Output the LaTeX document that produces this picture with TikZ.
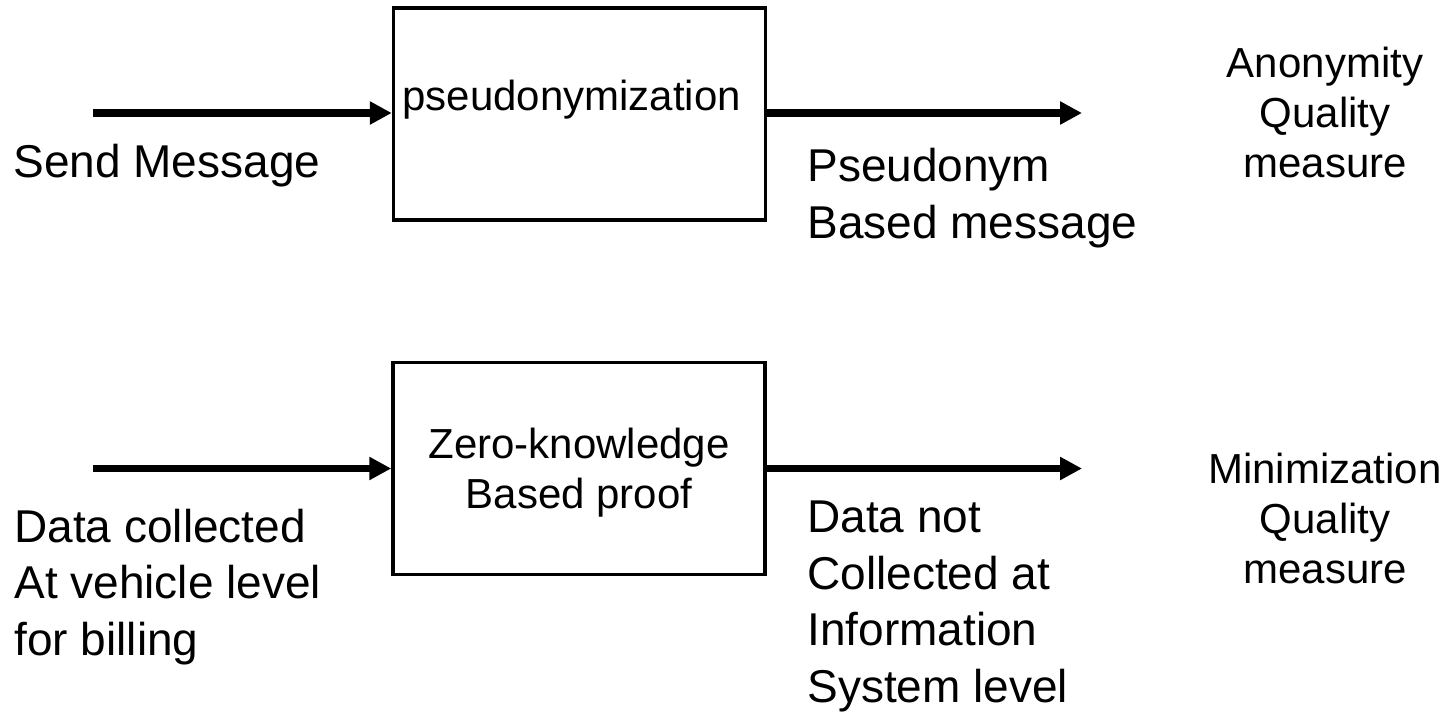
\documentclass[tikz,border=0pt]{standalone}
\usepackage{fontspec}
\setmainfont{Liberation Sans}
\usetikzlibrary{arrows.meta}
\begin{document}
\begin{tikzpicture}[x=0.5pt,y=-0.5pt,
  procbox/.style={draw=black, line width=1.75pt, minimum width=186pt, minimum height=106pt, inner sep=0pt},
  flow/.style={line width=3.75pt, -{Triangle[length=11pt,width=11pt]}},
  bigtext/.style={inner sep=0pt, align=left, anchor=base west, font=\fontsize{23}{28.25}\selectfont},
  smalltext/.style={inner sep=0pt, align=center, anchor=base, font=\fontsize{21}{25}\selectfont},
  boxtext/.style={inner sep=0pt, font=\fontsize{21}{25}\selectfont}]
\useasboundingbox (0,0) rectangle (1451,718);

% upper chain: pseudonymization
% (multi-line labels are placed by the baseline of their last line)
\node[procbox] (pbox) at (579.5,114) {};
\node[boxtext, anchor=base west] (plabel) at (402,110) {pseudonymization};
\coordinate (pin) at (93,113);
\coordinate (pout) at (1082,113);
\draw[flow] (pin) -- (pin -| pbox.west);
\draw[flow] (pbox.east |- pout) -- (pout);
\node[bigtext] (send) at (13,177) {Send Message};
\node[bigtext] (pseud) at (807,238) {Pseudonym\\Based message};
\node[smalltext] (anon) at (1325,177) {Anonymity\\Quality\\measure};

% lower chain: zero-knowledge proof
\node[procbox] (zbox) at (579,468.5) {};
\node[boxtext, align=center, anchor=base] (zlabel) at (579,508) {Zero-knowledge\\Based proof};
\coordinate (zin) at (93,468.5);
\coordinate (zout) at (1082,468.5);
\draw[flow] (zin) -- (zin -| zbox.west);
\draw[flow] (zbox.east |- zout) -- (zout);
\node[bigtext] (collect) at (14,655) {Data collected\\At vehicle level\\for billing};
\node[bigtext] (notcoll) at (807,702) {Data not\\Collected at\\Information\\System level};
\node[smalltext] (minim) at (1325,583) {Minimization\\Quality\\measure};
\end{tikzpicture}
\end{document}
